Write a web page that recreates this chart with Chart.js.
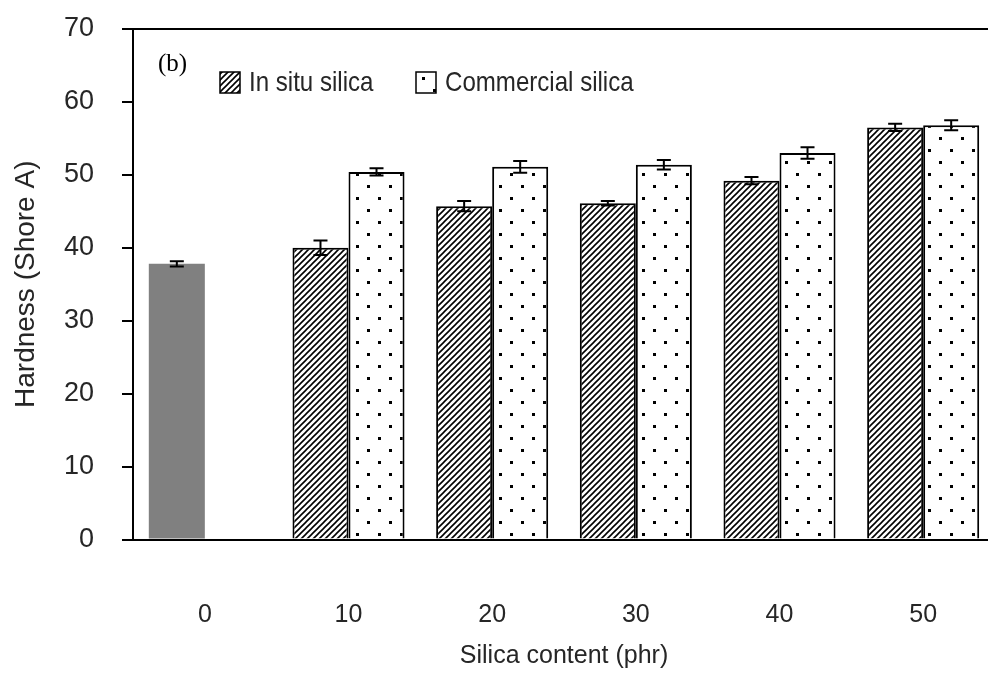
<!DOCTYPE html>
<html>
<head>
<meta charset="utf-8">
<script src="https://cdn.jsdelivr.net/npm/chart.js@4/dist/chart.umd.min.js"></script>
<style>
  html, body { margin: 0; padding: 0; background: #fff; overflow: hidden; }
  canvas { display: block; }
</style>
</head>
<body>
<canvas id="c" width="1000" height="684"></canvas>
<script>
// Silica loading (phr) and Shore A hardness readings
const categories = ['0', '10', '20', '30', '40', '50'];
const inSitu = [37.8, 40.0, 45.7, 46.1, 49.2, 56.5];
const inSituErr = [0.35, 1.0, 0.7, 0.3, 0.5, 0.5];
const commercial = [null, 50.4, 51.1, 51.4, 53.0, 56.8];
const commercialErr = [null, 0.5, 0.8, 0.65, 0.8, 0.7];
const yTicks = [0, 10, 20, 30, 40, 50, 60, 70];
const labelInSitu = 'In situ silica';
const labelCommercial = 'Commercial silica';
const panelTag = '(b)';

const SANS = '"Liberation Sans", Arial, sans-serif';
const SERIF = '"Liberation Serif", "Times New Roman", serif';
const TEXT = '#262626';

// Fill patterns: upward diagonal hatch and staggered dots
function hatchPattern() {
  const t = document.createElement('canvas');
  t.width = 6; t.height = 6;
  const g = t.getContext('2d');
  g.fillStyle = '#fff'; g.fillRect(0, 0, 6, 6);
  g.strokeStyle = '#000'; g.lineWidth = 1.6;
  g.beginPath();
  g.moveTo(0, 6); g.lineTo(6, 0);
  g.moveTo(-1, 1); g.lineTo(1, -1);
  g.moveTo(5, 7); g.lineTo(7, 5);
  g.stroke();
  return g.createPattern(t, 'repeat');
}
function dotPattern() {
  const t = document.createElement('canvas');
  t.width = 22; t.height = 24;
  const g = t.getContext('2d');
  g.fillStyle = '#fff'; g.fillRect(0, 0, 22, 24);
  g.fillStyle = '#000';
  g.fillRect(4, 5, 3, 3);
  g.fillRect(15, 17, 3, 3);
  return g.createPattern(t, 'repeat');
}
const hatch = hatchPattern();
const dots = dotPattern();

// Error bars drawn over each bar from the matching error array
const errorBars = {
  id: 'errorBars',
  afterDatasetsDraw(chart) {
    const ctx = chart.ctx;
    const y = chart.scales.y;
    const errs = [inSituErr, commercialErr];
    ctx.save();
    ctx.strokeStyle = '#000';
    ctx.lineWidth = 2;
    chart.data.datasets.forEach((ds, di) => {
      const meta = chart.getDatasetMeta(di);
      meta.data.forEach((bar, i) => {
        const v = ds.data[i];
        const e = errs[di][i];
        if (v == null || e == null) return;
        const x = bar.x;
        const yHi = y.getPixelForValue(v + e);
        const yLo = y.getPixelForValue(v - e);
        ctx.beginPath();
        ctx.moveTo(x, yHi); ctx.lineTo(x, yLo);
        ctx.moveTo(x - 7, yHi); ctx.lineTo(x + 7, yHi);
        ctx.moveTo(x - 7, yLo); ctx.lineTo(x + 7, yLo);
        ctx.stroke();
      });
    });
    ctx.restore();
  }
};

// Panel tag and legend inside the plot area (legend text set slightly condensed)
const panelLegend = {
  id: 'panelLegend',
  afterDraw(chart) {
    const ctx = chart.ctx;
    ctx.save();
    ctx.fillStyle = '#000';
    ctx.font = '25px ' + SERIF;
    ctx.textBaseline = 'alphabetic';
    ctx.fillText(panelTag, 158, 71);

    const items = [
      { x: 220, fill: hatch, text: labelInSitu },
      { x: 416, fill: dots, text: labelCommercial }
    ];
    items.forEach(it => {
      ctx.fillStyle = it.fill;
      ctx.fillRect(it.x, 72, 20, 21);
      ctx.strokeStyle = '#000';
      ctx.lineWidth = 1.5;
      ctx.strokeRect(it.x, 72, 20, 21);
      ctx.save();
      ctx.translate(it.x + 29, 83);
      ctx.scale(0.86, 1);
      ctx.fillStyle = TEXT;
      ctx.font = '28px ' + SANS;
      ctx.textBaseline = 'middle';
      ctx.fillText(it.text, 0, 0);
      ctx.restore();
    });
    ctx.restore();
  }
};

new Chart(document.getElementById('c'), {
  type: 'bar',
  data: {
    labels: categories,
    datasets: [
      {
        label: labelInSitu,
        data: inSitu,
        backgroundColor: c => c.dataIndex === 0 ? '#808080' : hatch,
        borderColor: '#000',
        borderWidth: c => c.dataIndex === 0 ? 0 : 2,
        barPercentage: 1,
        categoryPercentage: 0.78
      },
      {
        label: labelCommercial,
        data: commercial,
        backgroundColor: dots,
        borderColor: '#000',
        borderWidth: 2,
        barPercentage: 1,
        categoryPercentage: 0.78
      }
    ]
  },
  options: {
    responsive: false,
    animation: false,
    layout: { padding: { top: 29, right: 5, left: 0, bottom: 0 } },
    plugins: {
      legend: { display: false },
      tooltip: { enabled: false }
    },
    scales: {
      x: {
        afterFit(s) { s.height = 144.5; },
        grid: { display: false, drawTicks: false },
        border: { display: true, color: '#000', width: 2 },
        ticks: { color: TEXT, font: { family: SANS, size: 25 }, padding: 61 },
        title: {
          display: true,
          text: 'Silica content (phr)',
          color: TEXT,
          font: { family: SANS, size: 25 },
          padding: { top: 0, bottom: 13 }
        }
      },
      y: {
        min: 0,
        max: 70,
        afterFit(s) { s.width = 133; s.paddingTop = 0; s.paddingBottom = 0; },
        afterBuildTicks(s) { s.ticks = yTicks.map(v => ({ value: v })); },
        grid: {
          color: c => (c.tick && c.tick.value === 70) ? '#000' : 'rgba(0,0,0,0)',
          tickColor: '#000',
          lineWidth: 2,
          tickLength: 11,
          drawTicks: true
        },
        border: { display: true, color: '#000', width: 2 },
        ticks: { color: TEXT, font: { family: SANS, size: 27 }, padding: 28 },
        title: {
          display: true,
          text: 'Hardness (Shore A)',
          color: TEXT,
          font: { family: SANS, size: 28 },
          padding: { top: 9, bottom: 0 }
        }
      }
    }
  },
  plugins: [errorBars, panelLegend]
});
</script>
</body>
</html>
